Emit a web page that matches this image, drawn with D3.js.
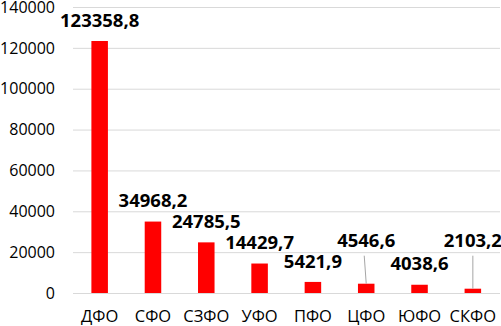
<!DOCTYPE html>
<html>
<head>
<meta charset="utf-8">
<script src="https://cdn.jsdelivr.net/npm/d3@7"></script>
<style>
  body { margin: 0; background: #fff; }
  svg { display: block; font-family: "Open Sans", sans-serif; }
</style>
</head>
<body>
<svg id="chart"></svg>
<script>
const districts = ['ДФО', 'СФО', 'СЗФО', 'УФО', 'ПФО', 'ЦФО', 'ЮФО', 'СКФО'];
const values = [123358.8, 34968.2, 24785.5, 14429.7, 5421.9, 4546.6, 4038.6, 2103.2];
const yTicks = [0, 20000, 40000, 60000, 80000, 100000, 120000, 140000];

// labels moved up by hand, with a leader line (px)
const liftedLabels = { 'ЦФО': 22, 'СКФО': 27 };

const width = 501;
const height = 326;

const svg = d3.select('#chart')
    .attr('width', width)
    .attr('height', height);

const x = d3.scaleBand()
    .domain(districts)
    .range([73, 499.5])
    .paddingInner(0.69)
    .paddingOuter(0.345);

const y = d3.scaleLinear()
    .domain([0, 140000])
    .range([293, 7]);

const fmt = v => d3.format('.1f')(v).replace('.', ',');

// gridlines
svg.append('g')
    .selectAll('line')
    .data(yTicks)
    .enter().append('line')
    .attr('x1', 73)
    .attr('x2', 500)
    .attr('y1', d => y(d) + 0.5)
    .attr('y2', d => y(d) + 0.5)
    .attr('stroke', '#d9d9d9')
    .attr('stroke-width', 1);

// y tick labels
svg.append('g')
    .selectAll('text')
    .data(yTicks)
    .enter().append('text')
    .attr('x', 55)
    .attr('y', d => y(d))
    .attr('dy', '0.36em')
    .attr('text-anchor', 'end')
    .attr('font-size', 16)
    .attr('fill', '#000')
    .text(d => d);

// bars
svg.append('g')
    .selectAll('rect')
    .data(values)
    .enter().append('rect')
    .attr('x', (d, i) => x(districts[i]))
    .attr('y', d => y(d))
    .attr('width', x.bandwidth())
    .attr('height', d => y(0) - y(d))
    .attr('fill', '#ff0000');

// x labels
svg.append('g')
    .selectAll('text')
    .data(districts)
    .enter().append('text')
    .attr('x', d => x(d) + x.bandwidth() / 2)
    .attr('y', 322)
    .attr('text-anchor', 'middle')
    .attr('font-size', 16.5)
    .attr('fill', '#000')
    .text(d => d);

// leader lines
districts.forEach((name, i) => {
    const lift = liftedLabels[name];
    if (!lift) return;
    const cx = x(name) + x.bandwidth() / 2;
    const labelY = y(values[i]) - 21 - lift;
    svg.append('line')
        .attr('x1', cx - (name === 'ЦФО' ? 2 : 0))
        .attr('y1', labelY + 15)
        .attr('x2', cx)
        .attr('y2', y(values[i]))
        .attr('stroke', '#a6a6a6')
        .attr('stroke-width', 1);
});

// value labels
svg.append('g')
    .selectAll('text')
    .data(values)
    .enter().append('text')
    .attr('x', (d, i) => x(districts[i]) + x.bandwidth() / 2)
    .attr('y', (d, i) => y(d) - 21 - (liftedLabels[districts[i]] || 0))
    .attr('dy', '0.36em')
    .attr('text-anchor', 'middle')
    .attr('font-size', 18.5)
    .attr('font-weight', 'bold')
    .attr('fill', '#000')
    .text(d => fmt(d));
</script>
</body>
</html>
